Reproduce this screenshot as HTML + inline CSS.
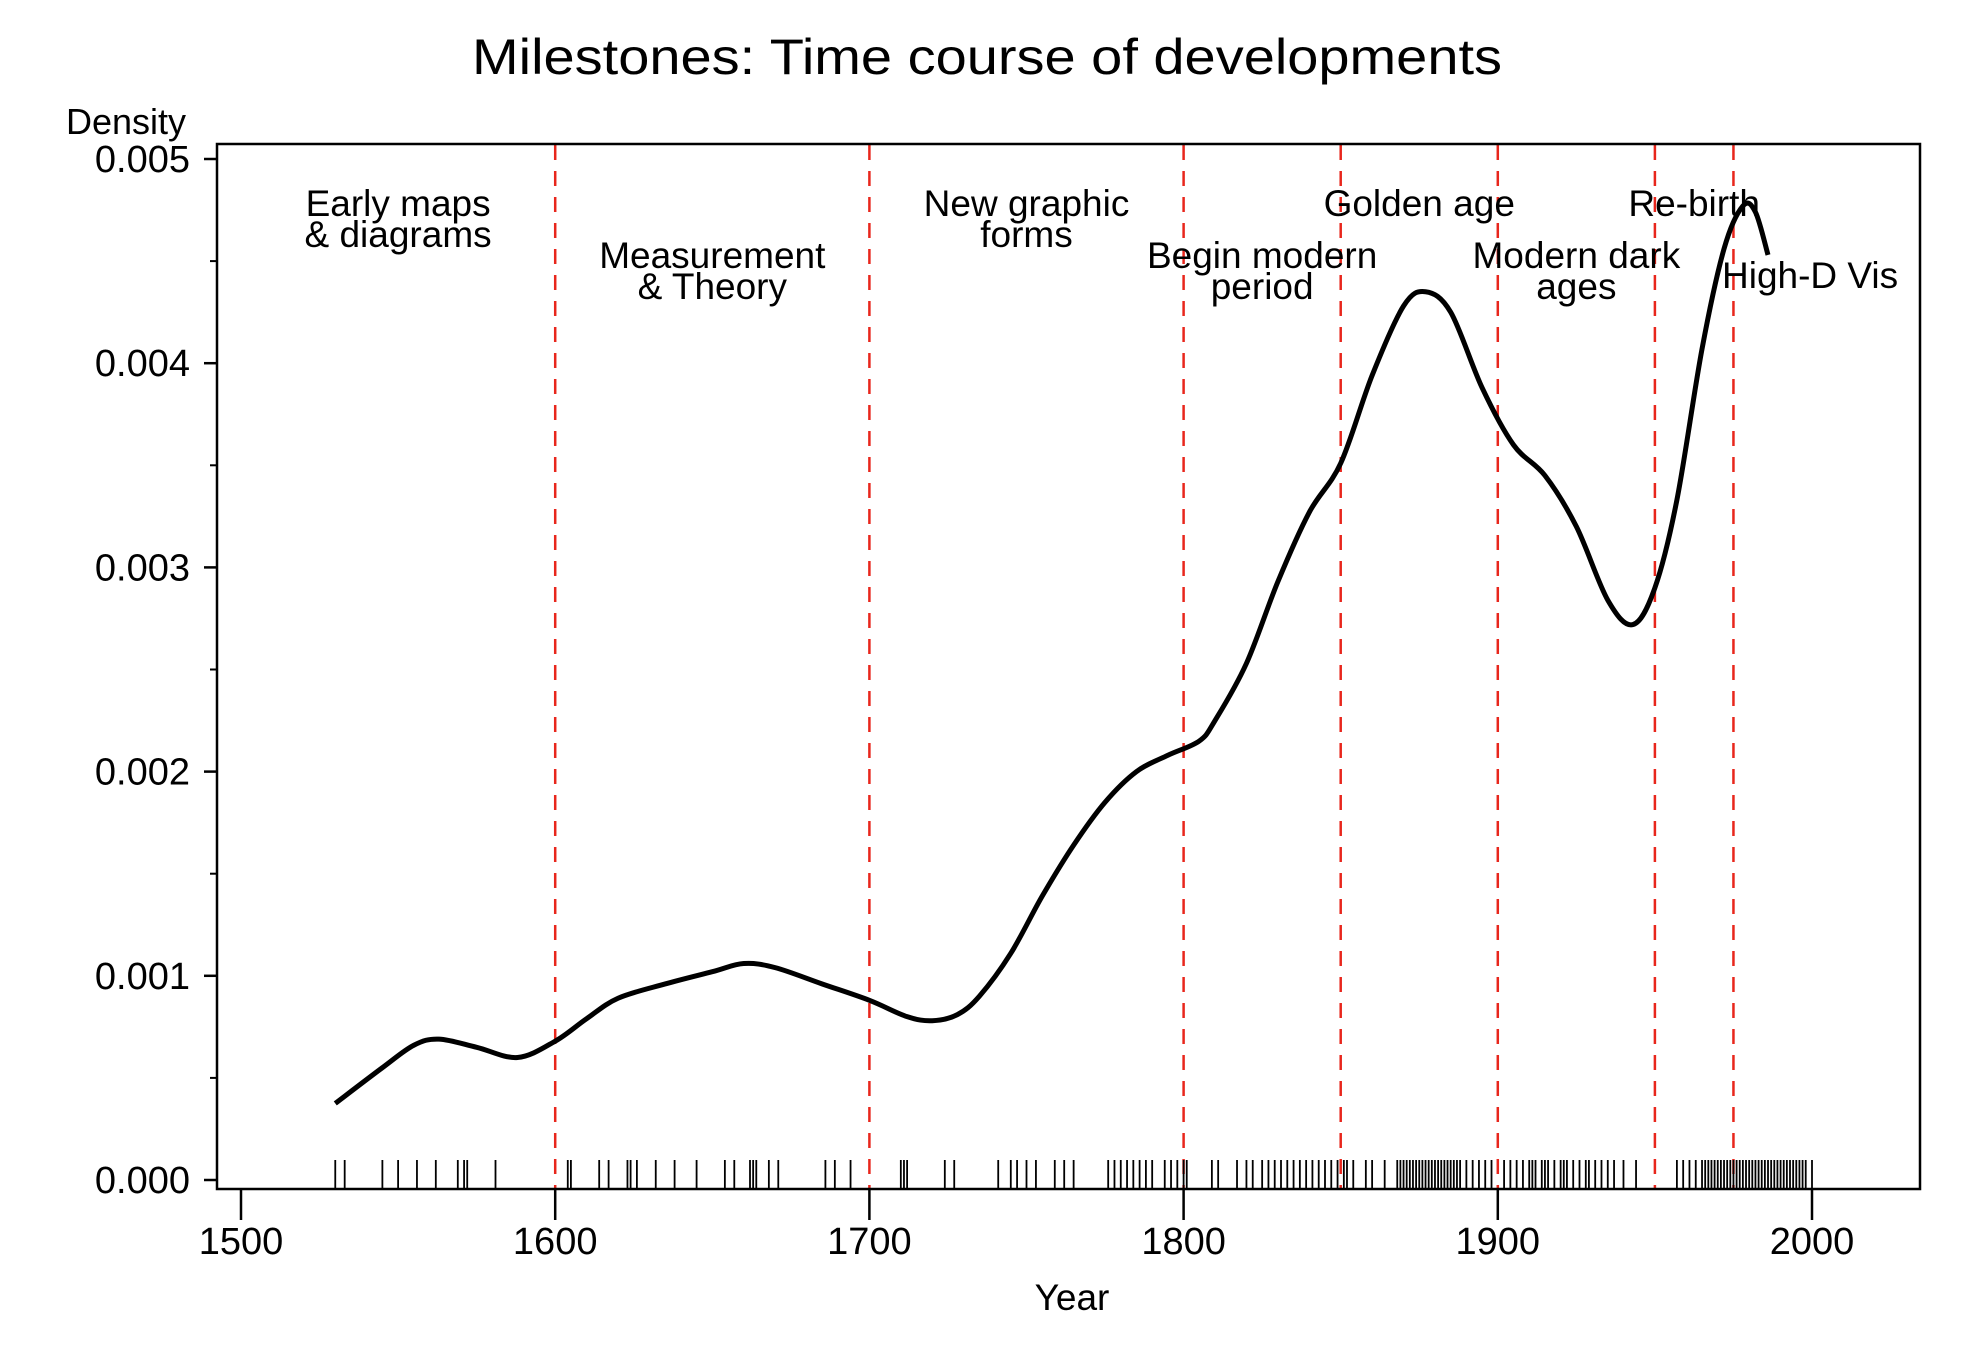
<!DOCTYPE html>
<html><head><meta charset="utf-8"><style>
html,body{margin:0;padding:0;background:#fff}
svg text{font-family:"Liberation Sans",Arial,sans-serif;fill:#000}
</style></head><body>
<svg id="chart" width="1965" height="1350" viewBox="0 0 1965 1350" xmlns="http://www.w3.org/2000/svg">
<rect x="0" y="0" width="1965" height="1350" fill="#fff"/>
<text x="987" y="74" font-size="50" text-anchor="middle" textLength="1030" lengthAdjust="spacingAndGlyphs">Milestones: Time course of developments</text>
<text x="126" y="134" font-size="36" text-anchor="middle">Density</text>
<text x="1072" y="1310" font-size="37" text-anchor="middle">Year</text>
<g id="grid"></g>
<g id="axes"></g>
<g id="rug"></g>
<g id="labels"></g>
<g id="curve"></g>
<rect x="217" y="144" width="1703" height="1045" fill="none" stroke="#000" stroke-width="2.5"/>
</svg>
<script>
const curveYears = [1530,1545,1555,1563,1575,1588,1600,1610,1620,1635,1650,1660,1670,1685,1700,1712,1720,1728,1735,1745,1755,1765,1775,1785,1795,1805,1810,1820,1830,1840,1850,1860,1870,1877,1885,1895,1905,1915,1925,1935,1943,1950,1957,1965,1972,1978,1982,1986];
const curveDensity = [0.000375,0.00055,0.00066,0.00069,0.00065,0.0006,0.00068,0.00079,0.00089,0.00096,0.00102,0.00106,0.00104,0.00096,0.00088,0.0008,0.00078,0.00081,0.0009,0.00111,0.00139,0.00164,0.00185,0.002,0.00208,0.00215,0.00225,0.00253,0.00293,0.00327,0.00351,0.00394,0.00428,0.00435,0.00425,0.00388,0.0036,0.00345,0.0032,0.00284,0.00272,0.0029,0.00333,0.00407,0.00456,0.00477,0.00474,0.00453];
const rugYears = [1530,1533,1545,1550,1556,1562,1569,1571,1572,1581,1604,1605,1614,1617,1623,1624,1626,1632,1638,1645,1654,1657,1662,1663,1664,1668,1671,1686,1689,1694,1710,1711,1712,1724,1727,1741,1745,1747,1750,1753,1759,1762,1765,1776,1778,1780,1782,1784,1786,1788,1790,1794,1796,1798,1800,1801,1809,1811,1817,1820,1822,1825,1827,1829,1831,1833,1835,1837,1839,1841,1843,1845,1847,1849,1851,1852,1854,1858,1860,1864,1868,1869,1870,1871,1872,1873,1874,1875,1876,1877,1878,1879,1880,1881,1882,1883,1884,1885,1886,1887,1888,1890,1892,1894,1896,1898,1902,1904,1906,1908,1910,1911,1912,1914,1915,1916,1918,1920,1921,1922,1924,1926,1928,1929,1931,1933,1935,1937,1940,1944,1957,1959,1961,1963,1965,1966,1967,1968,1969,1970,1971,1972,1973,1974,1975,1976,1977,1978,1979,1980,1981,1982,1983,1984,1985,1986,1987,1988,1989,1990,1991,1992,1993,1994,1995,1996,1997,1998,2000];
const periodBreaks = [1600,1700,1800,1850,1900,1950,1975];
const xTicks = [1500,1600,1700,1800,1900,2000];
const yTicks = [0,0.001,0.002,0.003,0.004,0.005];
const yTickLabels = ["0.000","0.001","0.002","0.003","0.004","0.005"];
const periodLabels = [["Early maps","& diagrams"],["Measurement","& Theory"],["New graphic","forms"],["Begin modern","period"],["Golden age"],["Modern dark","ages"],["Re-birth"],["High-D Vis"]];
const periodLabelYears = [1550,1650,1750,1825,1875,1925,1962.5,1987.5];
const periodLabelRow = [0,1,0,1,0,1,0,2];

const NS="http://www.w3.org/2000/svg";
const xs = y => 241 + (y-1500)*3.142;
const ys = d => 1180 - d*204200;
function mk(tag, attrs, parent){const e=document.createElementNS(NS,tag);for(const k in attrs)e.setAttribute(k,attrs[k]);parent.appendChild(e);return e;}
const grid=document.getElementById('grid'), axes=document.getElementById('axes'), rug=document.getElementById('rug'), labels=document.getElementById('labels'), curve=document.getElementById('curve');

periodBreaks.forEach(yr=>{
  const l=mk('line',{x1:xs(yr),x2:xs(yr),y1:145,y2:1188,stroke:'#e8261c','stroke-width':2.5,'stroke-dasharray':'15 11'},grid);
  
  
});
xTicks.forEach(v=>{
  const l=mk('line',{x1:xs(v),x2:xs(v),y1:1189,y2:1220,stroke:'#000','stroke-width':2.5},axes);
  
  
  const t=mk('text',{x:xs(v),y:1254,'font-size':38,'text-anchor':'middle'},axes);
  t.textContent=v;
  
  
});
yTicks.forEach((v,i)=>{
  const l=mk('line',{x1:204,x2:217,y1:ys(v),y2:ys(v),stroke:'#000','stroke-width':2.5},axes);
  
  
  const t=mk('text',{x:190,y:ys(v)+13,'font-size':38,'text-anchor':'end'},axes);
  t.textContent=yTickLabels[i];
  
  
  if(i<yTicks.length-1){
    const m=mk('line',{x1:210,x2:217,y1:ys(v+0.0005),y2:ys(v+0.0005),stroke:'#000','stroke-width':2},axes);
    
    
  }
});
rugYears.forEach(yr=>{
  const l=mk('line',{x1:xs(yr),x2:xs(yr),y1:1160,y2:1189,stroke:'#000','stroke-width':1.8},rug);
  
  
});
const rowBase=[216,268,288];
periodLabels.forEach((lines,i)=>{
  const anchor = i===7 ? 'start' : 'middle';
  const x = i===7 ? 1722 : xs(periodLabelYears[i]);
  lines.forEach((s,j)=>{
    const t=mk('text',{x:x,y:rowBase[periodLabelRow[i]]+j*31,'font-size':37,'text-anchor':anchor},labels);
    t.textContent=s;
    
    
  });
});
const P=curveYears.map((y,i)=>[xs(y),ys(curveDensity[i])]);
let d='M'+P[0][0]+','+P[0][1];
for(let i=0;i<P.length-1;i++){
  const p0=P[Math.max(i-1,0)],p1=P[i],p2=P[i+1],p3=P[Math.min(i+2,P.length-1)];
  const c1=[p1[0]+(p2[0]-p0[0])/6,p1[1]+(p2[1]-p0[1])/6];
  const c2=[p2[0]-(p3[0]-p1[0])/6,p2[1]-(p3[1]-p1[1])/6];
  d+=` C${c1[0]},${c1[1]} ${c2[0]},${c2[1]} ${p2[0]},${p2[1]}`;
}
const path=mk('path',{d:d,fill:'none',stroke:'#000','stroke-width':5,'stroke-linejoin':'round'},curve);


</script>
</body></html>
